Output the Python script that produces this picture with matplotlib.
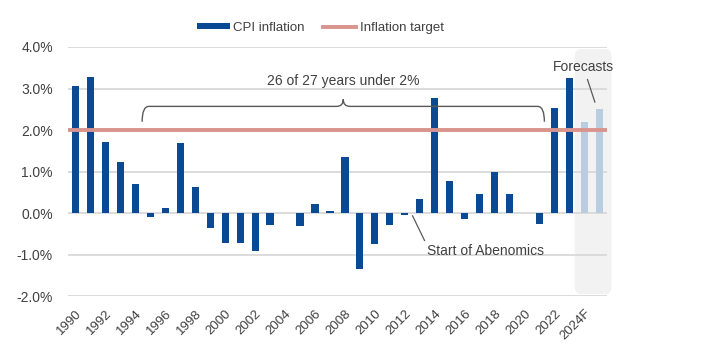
import matplotlib.pyplot as plt
import numpy as np
from matplotlib.path import Path
from matplotlib.patches import PathPatch, FancyBboxPatch, Patch
from matplotlib.lines import Line2D

plt.rcParams['font.family'] = ['Liberation Sans', 'DejaVu Sans']

# Dati: inflazione CPI Giappone (annuale, %)
years = list(range(1990, 2024)) + ['2024F', '2025F']
cpi = [3.07, 3.27, 1.71, 1.24, 0.69, -0.10, 0.12, 1.70, 0.63, -0.36,
       -0.71, -0.71, -0.92, -0.28, 0.0, -0.30, 0.23, 0.05, 1.36, -1.35,
       -0.75, -0.28, -0.05, 0.33, 2.76, 0.78, -0.13, 0.46, 0.98, 0.45,
       0.0, -0.26, 2.52, 3.25]
forecast = [2.20, 2.50]
target = 2.0
y_ticks = [-2, -1, 0, 1, 2, 3, 4]

DARK = '#0a4a95'
LIGHT = '#b9cce0'
TARGET = '#d9948e'
GRID = '#d9d9d9'
TXT = '#404040'

fig = plt.figure(figsize=(7.09, 3.56), dpi=100)
ax = fig.add_axes([0.096, 0.168, 0.76, 0.70])

n_hist = len(cpi)
x_hist = np.arange(n_hist)
x_fc = np.arange(n_hist, n_hist + len(forecast))

# area previsioni (sfondo grigio)
shade = FancyBboxPatch((x_fc[0] - 0.67, -1.95), 2.45, 5.9,
                       boxstyle='round,pad=0,rounding_size=0.4',
                       mutation_aspect=0.45, facecolor='#f2f2f3',
                       edgecolor='none', clip_on=False, zorder=0)
ax.add_patch(shade)

for yv in y_ticks:
    ax.axhline(yv, color=GRID, lw=1.3, zorder=1)

ax.bar(x_hist, cpi, width=0.47, color=DARK, zorder=3)
ax.bar(x_fc, forecast, width=0.47, color=LIGHT, zorder=3)
ax.axhline(target, color=TARGET, lw=2.8, zorder=4)

ax.set_xlim(-0.47, len(years) - 0.53)
ax.set_ylim(-2, 4)
ax.set_yticks(y_ticks)
ax.set_yticklabels([f'{v:.1f}%' for v in y_ticks])
ax.set_xticks(np.arange(0, len(years), 2))
ax.set_xticklabels([str(y) for y in years[::2]], rotation=45, ha='right',
                   rotation_mode='anchor')
ax.tick_params(axis='both', length=0, colors=TXT)
ax.tick_params(axis='y', pad=11, labelsize=10)
ax.tick_params(axis='x', pad=8, labelsize=9.5)
for s in ax.spines.values():
    s.set_visible(False)

# parentesi graffa "26 of 27 years"
x0, x1 = 4.47, 31.3
xc = (x0 + x1) / 2
yb, yt, yp = 2.2, 2.57, 2.74
r = 0.45
verts = [(x0, yb), (x0, yt), (x0 + r, yt),
         (xc - r, yt), (xc, yt), (xc, yp),
         (xc, yt), (xc + r, yt),
         (x1 - r, yt), (x1, yt), (x1, yb)]
codes = [Path.MOVETO, Path.CURVE3, Path.CURVE3,
         Path.LINETO, Path.CURVE3, Path.CURVE3,
         Path.CURVE3, Path.CURVE3,
         Path.LINETO, Path.CURVE3, Path.CURVE3]
ax.add_patch(PathPatch(Path(verts, codes), fill=False, edgecolor='#595959',
                       lw=1, zorder=5))
ax.text(xc, 3.18, '26 of 27 years under 2%', ha='center', va='center',
        fontsize=10, color=TXT)

# annotazioni
ax.annotate('Forecasts', xy=(x_fc[0] + 0.67, 2.67), xytext=(x_fc[0] - 0.1, 3.52),
            ha='center', va='center', fontsize=10, color=TXT,
            arrowprops=dict(arrowstyle='-', color='#595959', lw=0.9,
                            shrinkA=2, shrinkB=0), annotation_clip=False)
ax.annotate('Start of Abenomics', xy=(22.5, -0.06), xytext=(23.45, -0.9),
            ha='left', va='center', fontsize=10, color=TXT,
            arrowprops=dict(arrowstyle='-', color='#595959', lw=0.9,
                            shrinkA=0, shrinkB=0, relpos=(0, 0.9)))

handles = [Patch(facecolor=DARK, edgecolor='none'),
           Line2D([0], [0], color=TARGET, lw=2.8)]
fig.legend(handles, ['CPI inflation', 'Inflation target'], loc='center',
           bbox_to_anchor=(0.452, 0.922), ncol=2, frameon=False, fontsize=9.5,
           handlelength=2.5, handleheight=0.35, handletextpad=0.3,
           columnspacing=1.4, labelcolor=TXT)

fig.savefig('out.png', dpi=100)
